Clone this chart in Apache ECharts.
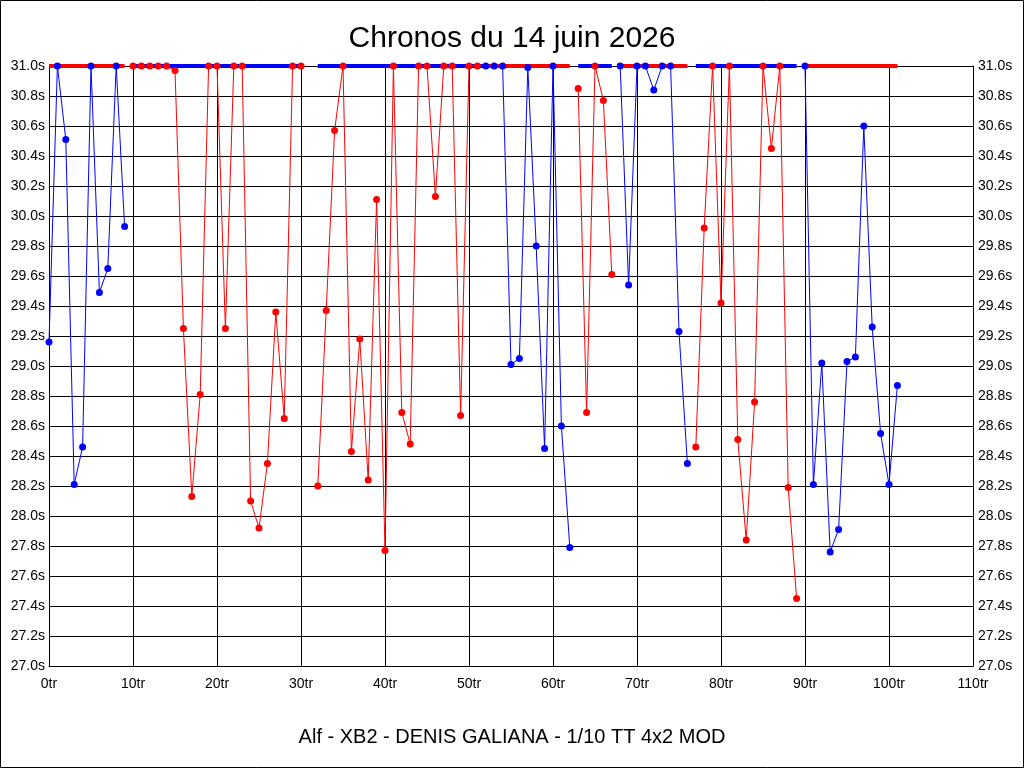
<!DOCTYPE html>
<html>
<head>
<meta charset="utf-8">
<title>Chronos</title>
<script src="https://cdn.jsdelivr.net/npm/echarts@6/dist/echarts.min.js"></script>
<style>
    html, body { margin: 0; padding: 0; background: #fff; }
    #main { width: 1024px; height: 768px; }
</style>
</head>
<body>
<div id="main"></div>
<script>
// temps au tour, index = numero du tour (31.0 = hors echelle, null = tour manquant)
var lapTimes = [
    29.16, 31.0, 30.51, 28.21, 28.46, 31.0, 29.49, 29.65, 31.0, 29.93,
    31.0, 31.0, 31.0, 31.0, 31.0, 30.97, 29.25, 28.13, 28.81, 31.0,
    31.0, 29.25, 31.0, 31.0, 28.10, 27.92, 28.35, 29.36, 28.65, 31.0,
    31.0, null, 28.20, 29.37, 30.57, 31.0, 28.43, 29.18, 28.24, 30.11,
    27.77, 31.0, 28.69, 28.48, 31.0, 31.0, 30.13, 31.0, 31.0, 28.67,
    31.0, 31.0, 31.0, 31.0, 31.0, 29.01, 29.05, 30.99, 29.80, 28.45,
    31.0, 28.60, 27.79, 30.85, 28.69, 31.0, 30.77, 29.61, 31.0, 29.54,
    31.0, 31.0, 30.84, 31.0, 31.0, 29.23, 28.35, 28.46, 29.92, 31.0,
    29.42, 31.0, 28.51, 27.84, 28.76, 31.0, 30.45, 31.0, 28.19, 27.45,
    31.0, 28.21, 29.02, 27.76, 27.91, 29.03, 29.06, 30.60, 29.26, 28.55,
    28.21, 28.87
];

// relais : [premier tour, dernier tour, couleur]
var stints = [
    [0, 9, 'blue'],
    [10, 51, 'red'],
    [52, 62, 'blue'],
    [63, 67, 'red'],
    [68, 76, 'blue'],
    [77, 89, 'red'],
    [90, 101, 'blue']
];

// barres en haut de l'echelle
var capBars = [
    [0, 9, 'red'],
    [10, 30, 'blue'],
    [32, 52, 'blue'],
    [52, 62, 'red'],
    [63, 67, 'blue'],
    [68, 76, 'red'],
    [77, 89, 'blue'],
    [90, 101, 'red']
];

var yMin = 27.0, yMax = 31.0, yStep = 0.2;
var xMin = 0, xMax = 110, xStep = 10;

var COLORS = { red: '#ff0000', blue: '#0000ff' };
var FONT = '"Liberation Sans", Arial, sans-serif';

var series = [];

capBars.forEach(function (b) {
    series.push({
        type: 'line',
        symbol: 'none',
        silent: true,
        z: 1,
        color: COLORS[b[2]],
        lineStyle: { width: 4, color: COLORS[b[2]] },
        data: [[b[0], yMax], [b[1], yMax]]
    });
});

stints.forEach(function (s) {
    var pts = [];
    for (var i = s[0]; i <= s[1]; i++) {
        pts.push([i, lapTimes[i]]);
    }
    series.push({
        type: 'line',
        symbol: 'circle',
        symbolSize: 7,
        showAllSymbol: true,
        connectNulls: false,
        z: 3,
        color: COLORS[s[2]],
        itemStyle: { color: COLORS[s[2]] },
        lineStyle: { width: 1, color: COLORS[s[2]] },
        data: pts
    });
});

var yLabel = {
    show: true,
    color: '#000',
    fontSize: 14,
    fontFamily: FONT,
    formatter: function (v) { return v.toFixed(1) + 's'; }
};

var dom = document.getElementById('main');
var myChart = echarts.init(dom);
var option = {
    animation: false,
    backgroundColor: '#fff',
    title: [{
        text: 'Chronos du 14 juin 2026',
        left: 'center',
        top: 19,
        textStyle: { color: '#000', fontSize: 30, fontWeight: 'normal', fontFamily: FONT }
    }, {
        text: 'Alf - XB2 - DENIS GALIANA - 1/10 TT 4x2 MOD',
        left: 'center',
        top: 722,
        textStyle: { color: '#000', fontSize: 20, fontWeight: 'normal', fontFamily: FONT }
    }],
    graphic: [{
        type: 'rect',
        shape: { x: 0.5, y: 0.5, width: 1023, height: 767 },
        style: { fill: 'none', stroke: '#000', lineWidth: 1 },
        silent: true
    }],
    grid: {
        left: 49,
        right: 51,
        top: 66,
        bottom: 102,
        containLabel: false
    },
    tooltip: { show: false },
    xAxis: {
        type: 'value',
        min: xMin,
        max: xMax,
        interval: xStep,
        axisLine: { show: true, lineStyle: { color: '#000', width: 1 } },
        axisTick: { show: false },
        axisLabel: {
            color: '#000',
            fontSize: 14,
            fontFamily: FONT,
            margin: 11,
            formatter: '{value}tr'
        },
        splitLine: { show: true, lineStyle: { color: '#000', width: 1 } }
    },
    yAxis: [{
        type: 'value',
        position: 'left',
        min: yMin,
        max: yMax,
        interval: yStep,
        axisLine: { show: true, lineStyle: { color: '#000', width: 1 } },
        axisTick: { show: false },
        axisLabel: Object.assign({ margin: 4 }, yLabel),
        splitLine: { show: true, lineStyle: { color: '#000', width: 1 } }
    }, {
        type: 'value',
        position: 'right',
        min: yMin,
        max: yMax,
        interval: yStep,
        axisLine: { show: true, lineStyle: { color: '#000', width: 1 } },
        axisTick: { show: false },
        axisLabel: Object.assign({ margin: 5 }, yLabel),
        splitLine: { show: false }
    }],
    series: series
};

myChart.setOption(option);
</script>
</body>
</html>
